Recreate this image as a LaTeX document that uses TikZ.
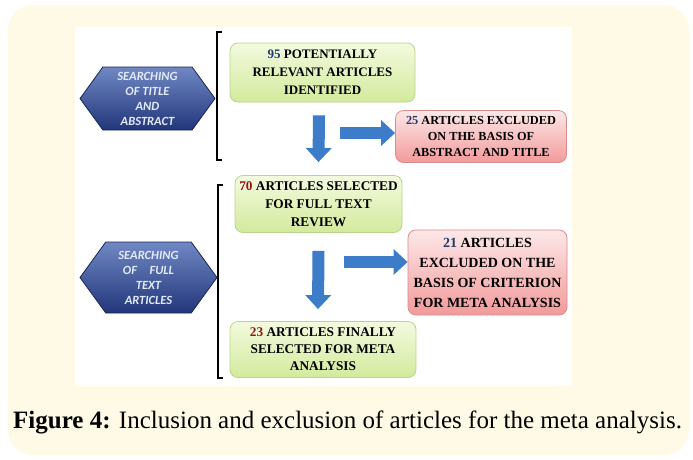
\documentclass[tikz,border=0pt]{standalone}
\usepackage{fontspec}
\setmainfont{Liberation Serif}
\newfontfamily\hexfont{Carlito}
\usetikzlibrary{shapes.geometric,shapes.symbols,arrows.meta,calc,shadings}
\definecolor{bgyellow}{HTML}{FFFAE6}
\definecolor{hextop}{HTML}{7088C4}
\definecolor{hexbot}{HTML}{22367A}
\definecolor{hexedge}{HTML}{1A2755}
\definecolor{greentop}{HTML}{F3FADF}
\definecolor{greenbot}{HTML}{D3EA9C}
\definecolor{greenedge}{HTML}{B9D48E}
\definecolor{redtop}{HTML}{FDE8E8}
\definecolor{redbot}{HTML}{F29A9A}
\definecolor{rededge}{HTML}{D98C8C}
\definecolor{arrowblue}{HTML}{3D7CC9}
\definecolor{numblue}{HTML}{1F3B6E}
\definecolor{numred}{HTML}{961414}
\definecolor{hextext}{HTML}{E4EAF8}
\tikzset{
  hexbox/.style={signal, signal to=east and west, signal pointer angle=108,
    draw=hexedge, line width=0.8pt, top color=hextop, bottom color=hexbot,
    inner sep=0pt, align=center, text=hextext,
    font=\hexfont\bfseries\itshape\fontsize{12.5}{15}\selectfont},
  greenbox/.style={draw=greenedge, line width=0.8pt, rounded corners=8pt,
    top color=greentop, bottom color=greenbot, align=center, inner sep=0pt},
  redbox/.style={draw=rededge, line width=0.8pt, rounded corners=8pt,
    top color=redtop, bottom color=redbot, align=center, inner sep=0pt},
  blockarrow/.style={draw=arrowblue, line width=12pt,
    -{Triangle[length=14pt,width=25pt]}},
  bracketline/.style={line width=2.2pt, black}
}
\begin{document}
\begin{tikzpicture}[x=1pt,y=-1pt]
\useasboundingbox (0,0) rectangle (693,459);
\fill[bgyellow, rounded corners=25pt] (8,5) rectangle (689,455);
\fill[white] (75,27) rectangle (572,386);

% hexagons
\node[hexbox, minimum width=135pt, minimum height=63pt] (h1) at (147.5,98.5)
  {SEARCHING\\OF TITLE\\AND\\ABSTRACT};
\node[hexbox, minimum width=137pt, minimum height=71pt] (h2) at (148.5,277.5)
  {SEARCHING\\OF\quad FULL\\TEXT\\ARTICLES};

% brackets
\coordinate (k1t) at (222,32);
\coordinate (k1b) at (222,160);
\draw[bracketline] (k1t) -- ++(-5,0) |- (k1b);
\coordinate (k2t) at (223,185);
\coordinate (k2b) at (223,378);
\draw[bracketline] (k2t) -- ++(-5,0) |- (k2b);

% green boxes
\node[greenbox, minimum width=185pt, minimum height=59pt,
  font=\bfseries\fontsize{13}{18}\selectfont] (b1) at (322.5,72.5)
  {\textcolor{numblue}{95} POTENTIALLY\\RELEVANT ARTICLES\\IDENTIFIED};
\node[greenbox, minimum width=167pt, minimum height=57pt,
  font=\bfseries\fontsize{13.3}{18}\selectfont] (b2) at (318.5,204)
  {\textcolor{numred}{70} ARTICLES SELECTED\\FOR FULL TEXT\\REVIEW};
\node[greenbox, minimum width=186pt, minimum height=56pt,
  font=\bfseries\fontsize{13.3}{17}\selectfont] (b3) at (323,349.5)
  {\textcolor{numred}{23} ARTICLES FINALLY\\SELECTED FOR META\\ANALYSIS};

% red boxes
\node[redbox, minimum width=171pt, minimum height=52pt,
  font=\bfseries\fontsize{12.3}{16}\selectfont] (r1) at (481,136.5)
  {\textcolor{numblue}{25} ARTICLES EXCLUDED\\ON THE BASIS OF\\ABSTRACT AND TITLE};
\node[redbox, minimum width=159pt, minimum height=85pt,
  font=\bfseries\fontsize{14}{20}\selectfont] (r2) at (487.5,272.5)
  {\textcolor{numblue}{21} ARTICLES\\EXCLUDED ON THE\\BASIS OF CRITERION\\FOR META ANALYSIS};

% block arrows
\draw[blockarrow] ($(b1.south)+(-3.5,13)$) -- ($(b2.north)+(0,-13)$);
\draw[blockarrow] ($(r1.west)+(-55,-3.5)$) -- ($(r1.west)+(0,-3.5)$);
\draw[blockarrow] ($(b2.south)+(0,18)$) -- ($(b3.north)+(-5,-12)$);
\draw[blockarrow] ($(r2.west)+(-64,-10.5)$) -- ($(r2.west)+(0,-10.5)$);

% caption
\node[anchor=base west, inner sep=0pt, font=\fontsize{25}{30}\selectfont] (cap) at (13,428)
  {\textbf{Figure 4:} Inclusion and exclusion of articles for the meta analysis.};
\end{tikzpicture}
\end{document}
